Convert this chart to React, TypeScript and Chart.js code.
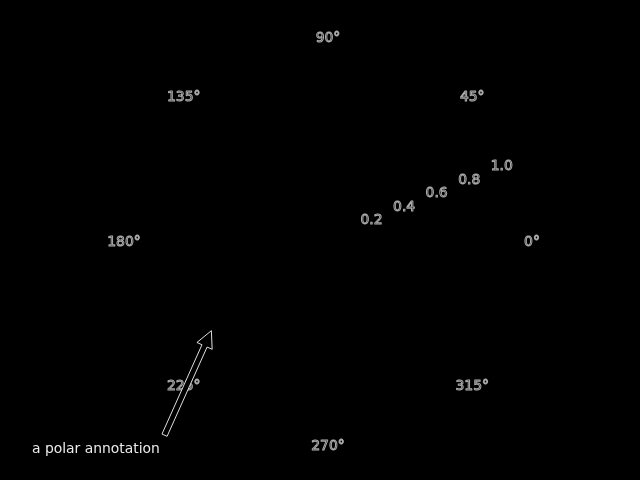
import React, { useEffect, useRef } from "react";
import { Chart, registerables } from "chart.js";

Chart.register(...registerables);

// Angular tick labels, clockwise starting from the top (90°)
const THETA_LABELS = ["90°", "45°", "0°", "315°", "270°", "225°", "180°", "135°"];
// Radial ticks
const R_TICKS = [0.2, 0.4, 0.6, 0.8, 1.0];
const R_TICK_LABELS = ["0.2", "0.4", "0.6", "0.8", "1.0"];
const R_MAX = 1.05;
const RLABEL_ANGLE = 22.5;
// Annotated point (r, theta in degrees)
const ANNOT_R = [0.8];
const ANNOT_THETA = [216];
const ANNOT_TEXT = "a polar annotation";

const FONT = '13.9px "DejaVu Sans", sans-serif';

const overlayPlugin = {
  id: "polarOverlay",
  beforeDraw(chart: any) {
    const ctx = chart.ctx;
    ctx.save();
    ctx.fillStyle = "#000";
    ctx.fillRect(0, 0, chart.width, chart.height);
    ctx.restore();
  },
  afterDraw(chart: any) {
    const ctx = chart.ctx;
    const scale = chart.scales.r;
    const xc = scale.xCenter;
    const yc = scale.yCenter;
    ctx.save();
    ctx.font = FONT;
    ctx.lineWidth = 1;
    ctx.lineJoin = "round";

    // angular labels
    ctx.textAlign = "center";
    ctx.textBaseline = "middle";
    ctx.strokeStyle = "rgba(200,200,200,0.85)";
    THETA_LABELS.forEach((lab, i) => {
      const p = scale.getPointPosition(i, scale.drawingArea + 19);
      ctx.strokeText(lab, p.x, p.y);
    });

    // radial tick labels
    const a = (RLABEL_ANGLE * Math.PI) / 180;
    R_TICKS.forEach((v, i) => {
      const d = scale.getDistanceFromCenterForValue(v);
      const x = xc + d * Math.cos(a) + 11;
      const y = yc - d * Math.sin(a) - 8;
      ctx.strokeText(R_TICK_LABELS[i], x, y);
    });

    // annotation text
    ctx.textAlign = "left";
    ctx.textBaseline = "alphabetic";
    ctx.fillStyle = "rgba(235,235,235,1)";
    const tx = 32;
    const tb = 453;
    ctx.fillText(ANNOT_TEXT, tx, tb);
    const tw = ctx.measureText(ANNOT_TEXT).width;
    const cornerX = tx + tw + 2;
    const cornerY = tb - 12;

    // arrow to annotated point
    const th = (ANNOT_THETA[0] * Math.PI) / 180;
    const dr = scale.getDistanceFromCenterForValue(ANNOT_R[0]);
    const px = xc + dr * Math.cos(th);
    const py = yc - dr * Math.sin(th);
    const vx = px - cornerX;
    const vy = py - cornerY;
    const L = Math.hypot(vx, vy);
    const ux = vx / L;
    const uy = vy / L;
    const shrink = 0.05 * L;
    const Tx = cornerX + ux * shrink;
    const Ty = cornerY + uy * shrink;
    const Px = px - ux * shrink;
    const Py = py - uy * shrink;
    const nx = -uy;
    const ny = ux;
    const hl = 16.7;
    const hw = 8.35;
    const sw = 2.8;
    const Bx = Px - ux * hl;
    const By = Py - uy * hl;
    ctx.beginPath();
    ctx.moveTo(Tx + nx * sw, Ty + ny * sw);
    ctx.lineTo(Bx + nx * sw, By + ny * sw);
    ctx.lineTo(Bx + nx * hw, By + ny * hw);
    ctx.lineTo(Px, Py);
    ctx.lineTo(Bx - nx * hw, By - ny * hw);
    ctx.lineTo(Bx - nx * sw, By - ny * sw);
    ctx.lineTo(Tx - nx * sw, Ty - ny * sw);
    ctx.closePath();
    ctx.fillStyle = "#000";
    ctx.fill();
    ctx.strokeStyle = "rgba(235,235,235,0.95)";
    ctx.stroke();
    ctx.restore();
  },
};

export default function App() {
  const ref = useRef<HTMLCanvasElement | null>(null);
  useEffect(() => {
    if (!ref.current) return;
    const chart = new Chart(ref.current, {
      type: "radar",
      data: {
        labels: THETA_LABELS,
        datasets: [
          {
            label: "r",
            data: [],
            borderWidth: 0,
            pointRadius: 0,
          },
        ],
      },
      options: {
        animation: false,
        responsive: true,
        maintainAspectRatio: false,
        layout: { padding: { left: 143, right: 127, top: 57, bottom: 53 } },
        plugins: { legend: { display: false }, tooltip: { enabled: false } },
        scales: {
          r: {
            min: 0,
            max: R_MAX,
            startAngle: 0,
            grid: { display: false },
            angleLines: { display: false },
            ticks: { display: false, stepSize: 0.2 },
            pointLabels: { display: false },
          },
        },
      },
      plugins: [overlayPlugin],
    });
    return () => chart.destroy();
  }, []);
  return (
    <div
      style={{
        position: "fixed",
        left: 0,
        top: 0,
        width: 640,
        height: 480,
        background: "#000",
        overflow: "hidden",
      }}
    >
      <canvas ref={ref} width={640} height={480} />
    </div>
  );
}
